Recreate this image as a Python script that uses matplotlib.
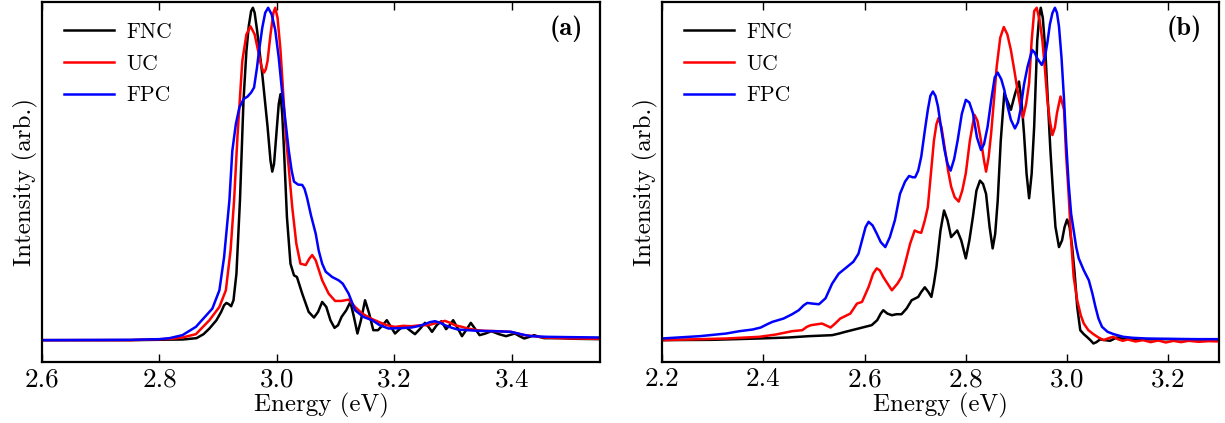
import numpy as np
import matplotlib
matplotlib.use('Agg')
import matplotlib.pyplot as plt

plt.rcParams['font.family'] = 'serif'
plt.rcParams['font.serif'] = ['cmr10']
plt.rcParams['mathtext.fontset'] = 'cm'
plt.rcParams['axes.formatter.use_mathtext'] = True

labels = ['FNC', 'UC', 'FPC']
colors = ['black', 'red', 'blue']

# panel (a) spectra: energy (eV), intensity (normalised)
a_fnc = [(2.60, 0.0), (2.75, 0.0), (2.84, 0.002), (2.863, 0.006), (2.875, 0.018), (2.885, 0.035),
         (2.897, 0.06), (2.905, 0.085), (2.910, 0.105), (2.914, 0.112), (2.918, 0.108), (2.922, 0.102),
         (2.926, 0.12), (2.931, 0.20), (2.937, 0.42), (2.943, 0.72), (2.948, 0.87), (2.952, 0.945),
         (2.956, 0.99), (2.959, 1.0), (2.962, 0.985), (2.966, 0.934), (2.975, 0.80), (2.984, 0.642),
         (2.989, 0.54), (2.992, 0.507), (2.995, 0.53), (2.999, 0.62), (3.003, 0.71), (3.006, 0.74),
         (3.009, 0.68), (3.012, 0.572), (3.017, 0.37), (3.023, 0.23), (3.029, 0.195), (3.034, 0.19),
         (3.043, 0.14), (3.054, 0.085), (3.063, 0.068), (3.070, 0.085), (3.077, 0.115), (3.084, 0.10),
         (3.091, 0.06), (3.098, 0.037), (3.104, 0.045), (3.110, 0.07), (3.118, 0.09), (3.125, 0.115),
         (3.131, 0.07), (3.137, 0.02), (3.143, 0.06), (3.150, 0.12), (3.157, 0.08), (3.164, 0.03),
         (3.172, 0.03), (3.180, 0.045), (3.187, 0.06), (3.194, 0.04), (3.201, 0.02), (3.210, 0.035),
         (3.218, 0.042), (3.226, 0.03), (3.235, 0.018), (3.244, 0.035), (3.252, 0.052), (3.258, 0.04),
         (3.264, 0.025), (3.272, 0.045), (3.280, 0.057), (3.288, 0.033), (3.294, 0.045), (3.300, 0.06),
         (3.308, 0.035), (3.315, 0.012), (3.322, 0.03), (3.330, 0.052), (3.337, 0.035), (3.345, 0.015),
         (3.355, 0.02), (3.365, 0.027), (3.378, 0.018), (3.39, 0.012), (3.405, 0.02), (3.413, 0.012),
         (3.421, 0.005), (3.430, 0.01), (3.438, 0.015), (3.446, 0.01), (3.455, 0.006), (3.48, 0.006),
         (3.51, 0.004), (3.55, 0.003)]
a_uc = [(2.60, 0.0), (2.75, 0.0), (2.82, 0.004), (2.839, 0.008), (2.862, 0.018), (2.885, 0.06),
        (2.902, 0.10), (2.913, 0.15), (2.921, 0.27), (2.927, 0.42), (2.933, 0.62), (2.941, 0.84),
        (2.948, 0.92), (2.955, 0.944), (2.962, 0.92), (2.970, 0.853), (2.974, 0.82), (2.978, 0.805),
        (2.981, 0.815), (2.984, 0.84), (2.989, 0.92), (2.994, 0.985), (2.997, 1.0), (3.001, 0.97),
        (3.006, 0.873), (3.015, 0.62), (3.026, 0.40), (3.033, 0.29), (3.040, 0.23), (3.049, 0.226),
        (3.055, 0.245), (3.060, 0.256), (3.066, 0.24), (3.077, 0.18), (3.088, 0.14), (3.099, 0.118),
        (3.110, 0.118), (3.122, 0.122), (3.133, 0.10), (3.145, 0.08), (3.160, 0.065), (3.173, 0.055),
        (3.187, 0.045), (3.201, 0.04), (3.215, 0.043), (3.229, 0.042), (3.245, 0.045), (3.258, 0.045),
        (3.272, 0.052), (3.286, 0.058), (3.295, 0.052), (3.303, 0.045), (3.315, 0.04), (3.325, 0.035),
        (3.340, 0.03), (3.354, 0.028), (3.375, 0.027), (3.398, 0.025), (3.410, 0.02), (3.421, 0.015),
        (3.438, 0.012), (3.455, 0.008), (3.48, 0.006), (3.51, 0.005), (3.55, 0.004)]
a_fpc = [(2.60, 0.0), (2.75, 0.001), (2.80, 0.003), (2.817, 0.006), (2.839, 0.015), (2.862, 0.04),
         (2.89, 0.095), (2.902, 0.15), (2.910, 0.25), (2.919, 0.42), (2.924, 0.57), (2.930, 0.65),
         (2.936, 0.70), (2.943, 0.725), (2.950, 0.733), (2.956, 0.745), (2.961, 0.76), (2.966, 0.82),
         (2.969, 0.864), (2.975, 0.94), (2.980, 0.985), (2.985, 1.0), (2.991, 0.98), (2.997, 0.934),
         (3.003, 0.85), (3.009, 0.743), (3.015, 0.65), (3.020, 0.572), (3.025, 0.51), (3.029, 0.477),
         (3.036, 0.468), (3.043, 0.467), (3.047, 0.455), (3.051, 0.43), (3.058, 0.375), (3.066, 0.32),
         (3.071, 0.27), (3.077, 0.23), (3.083, 0.206), (3.094, 0.19), (3.105, 0.18), (3.112, 0.17),
         (3.122, 0.14), (3.133, 0.09), (3.147, 0.07), (3.162, 0.06), (3.175, 0.045), (3.19, 0.035),
         (3.21, 0.036), (3.229, 0.038), (3.240, 0.042), (3.252, 0.048), (3.260, 0.054), (3.269, 0.057),
         (3.278, 0.052), (3.286, 0.045), (3.298, 0.037), (3.308, 0.032), (3.325, 0.03), (3.342, 0.028),
         (3.37, 0.027), (3.399, 0.025), (3.415, 0.018), (3.432, 0.012), (3.46, 0.01), (3.50, 0.009),
         (3.55, 0.008)]

# panel (b) spectra
b_fnc = [(2.20, 0.0), (2.30, 0.001), (2.392, 0.005), (2.45, 0.008), (2.49, 0.012), (2.536, 0.015),
         (2.550, 0.02), (2.562, 0.025), (2.588, 0.035), (2.614, 0.045), (2.625, 0.06), (2.632, 0.08),
         (2.637, 0.09), (2.645, 0.08), (2.654, 0.075), (2.663, 0.078), (2.673, 0.078), (2.683, 0.095),
         (2.693, 0.12), (2.706, 0.13), (2.712, 0.145), (2.719, 0.159), (2.726, 0.145), (2.732, 0.13),
         (2.737, 0.17), (2.742, 0.22), (2.750, 0.33), (2.757, 0.39), (2.764, 0.36), (2.771, 0.31),
         (2.777, 0.32), (2.783, 0.33), (2.791, 0.30), (2.800, 0.246), (2.807, 0.30), (2.814, 0.371),
         (2.821, 0.45), (2.828, 0.48), (2.834, 0.47), (2.840, 0.44), (2.847, 0.34), (2.853, 0.276),
         (2.858, 0.32), (2.863, 0.42), (2.869, 0.60), (2.876, 0.743), (2.882, 0.72), (2.889, 0.693),
         (2.897, 0.74), (2.905, 0.778), (2.910, 0.72), (2.915, 0.62), (2.920, 0.50), (2.925, 0.427),
         (2.930, 0.50), (2.935, 0.642), (2.941, 0.90), (2.945, 0.975), (2.948, 1.0), (2.952, 0.97),
         (2.957, 0.873), (2.962, 0.72), (2.967, 0.572), (2.972, 0.45), (2.977, 0.341), (2.984, 0.28),
         (2.990, 0.30), (2.995, 0.34), (3.000, 0.363), (3.005, 0.34), (3.010, 0.28), (3.015, 0.20),
         (3.020, 0.10), (3.026, 0.03), (3.033, 0.018), (3.039, 0.01), (3.046, 0.0), (3.052, -0.01),
         (3.058, -0.006), (3.065, 0.002), (3.075, 0.0), (3.085, -0.002), (3.098, 0.008), (3.110, 0.004),
         (3.13, 0.003), (3.15, 0.002), (3.2, 0.003), (3.25, 0.002), (3.3, 0.002)]
b_uc = [(2.20, 0.0), (2.327, 0.005), (2.392, 0.01), (2.425, 0.017), (2.457, 0.027), (2.477, 0.03),
        (2.486, 0.04), (2.494, 0.045), (2.516, 0.05), (2.533, 0.038), (2.542, 0.05), (2.552, 0.065),
        (2.572, 0.08), (2.585, 0.11), (2.595, 0.115), (2.608, 0.16), (2.617, 0.20), (2.624, 0.216),
        (2.630, 0.21), (2.637, 0.19), (2.654, 0.15), (2.665, 0.17), (2.673, 0.19), (2.680, 0.23),
        (2.690, 0.29), (2.699, 0.33), (2.706, 0.325), (2.712, 0.323), (2.719, 0.36), (2.725, 0.40),
        (2.731, 0.50), (2.737, 0.60), (2.742, 0.65), (2.746, 0.668), (2.752, 0.64), (2.758, 0.582),
        (2.765, 0.51), (2.771, 0.462), (2.778, 0.43), (2.786, 0.417), (2.793, 0.45), (2.800, 0.502),
        (2.808, 0.60), (2.817, 0.678), (2.823, 0.66), (2.830, 0.60), (2.836, 0.54), (2.840, 0.507),
        (2.845, 0.55), (2.850, 0.622), (2.856, 0.73), (2.861, 0.823), (2.868, 0.91), (2.875, 0.942),
        (2.882, 0.92), (2.889, 0.873), (2.896, 0.81), (2.902, 0.753), (2.908, 0.70), (2.913, 0.67),
        (2.919, 0.71), (2.925, 0.773), (2.930, 0.90), (2.935, 0.99), (2.940, 1.0), (2.946, 0.96),
        (2.951, 0.904), (2.956, 0.82), (2.961, 0.723), (2.966, 0.66), (2.971, 0.617), (2.976, 0.64),
        (2.980, 0.683), (2.987, 0.733), (2.994, 0.693), (2.998, 0.56), (3.003, 0.44), (3.008, 0.30),
        (3.013, 0.19), (3.020, 0.12), (3.027, 0.075), (3.033, 0.05), (3.042, 0.03), (3.052, 0.018),
        (3.062, 0.008), (3.072, 0.0), (3.082, 0.006), (3.091, 0.01), (3.10, 0.003), (3.11, -0.002),
        (3.12, 0.002), (3.135, -0.004), (3.15, 0.0), (3.165, -0.006), (3.18, -0.001), (3.195, -0.007),
        (3.21, -0.002), (3.225, -0.006), (3.24, -0.002), (3.26, -0.005), (3.28, -0.003), (3.30, -0.004)]
b_fpc = [(2.20, 0.005), (2.275, 0.012), (2.327, 0.02), (2.353, 0.027), (2.379, 0.032), (2.395, 0.038),
         (2.408, 0.048), (2.418, 0.055), (2.440, 0.065), (2.457, 0.078), (2.470, 0.09), (2.480, 0.105),
         (2.487, 0.112), (2.497, 0.11), (2.51, 0.108), (2.523, 0.126), (2.536, 0.17), (2.549, 0.2),
         (2.562, 0.216), (2.578, 0.236), (2.588, 0.26), (2.595, 0.30), (2.602, 0.34), (2.608, 0.356),
         (2.616, 0.345), (2.624, 0.321), (2.632, 0.295), (2.641, 0.28), (2.650, 0.31), (2.660, 0.361),
         (2.670, 0.44), (2.680, 0.477), (2.688, 0.494), (2.695, 0.49), (2.700, 0.49), (2.706, 0.51),
         (2.712, 0.552), (2.719, 0.63), (2.725, 0.693), (2.730, 0.735), (2.735, 0.748), (2.740, 0.735),
         (2.745, 0.703), (2.752, 0.63), (2.758, 0.572), (2.764, 0.53), (2.770, 0.51), (2.777, 0.545),
         (2.784, 0.602), (2.792, 0.68), (2.800, 0.723), (2.807, 0.715), (2.814, 0.683), (2.822, 0.61),
         (2.830, 0.572), (2.836, 0.59), (2.843, 0.642), (2.850, 0.72), (2.857, 0.79), (2.863, 0.805),
         (2.870, 0.785), (2.876, 0.753), (2.883, 0.70), (2.889, 0.663), (2.897, 0.637), (2.903, 0.655),
         (2.908, 0.693), (2.915, 0.77), (2.922, 0.823), (2.931, 0.873), (2.936, 0.865), (2.941, 0.848),
         (2.950, 0.828), (2.956, 0.85), (2.961, 0.894), (2.966, 0.95), (2.971, 0.984), (2.976, 1.0),
         (2.980, 0.985), (2.984, 0.944), (2.989, 0.85), (2.994, 0.723), (2.998, 0.60), (3.003, 0.472),
         (3.008, 0.38), (3.013, 0.33), (3.018, 0.28), (3.023, 0.246), (3.033, 0.21), (3.043, 0.18),
         (3.050, 0.14), (3.056, 0.10), (3.062, 0.065), (3.069, 0.04), (3.080, 0.025), (3.092, 0.018),
         (3.111, 0.01), (3.13, 0.007), (3.157, 0.005), (3.2, 0.004), (3.255, 0.003), (3.30, 0.003)]

a_xticks = [2.6, 2.8, 3.0, 3.2, 3.4]
b_xticks = [2.2, 2.4, 2.6, 2.8, 3.0, 3.2]

fig = plt.figure(figsize=(12.25, 4.23), dpi=100)
ax_a = fig.add_axes([0.0343, 0.144, 0.4555, 0.851])
ax_b = fig.add_axes([0.5404, 0.144, 0.4547, 0.851])

panels = [(ax_a, [a_fnc, a_uc, a_fpc], (2.6, 3.55), a_xticks, '(a)'),
          (ax_b, [b_fnc, b_uc, b_fpc], (2.2, 3.3), b_xticks, '(b)')]

for ax, series, xlim, xticks, tag in panels:
    for data, lab, col in zip(series, labels, colors):
        e, s = np.array(data).T
        ax.plot(e, s, color=col, lw=1.8, label=lab)
    ax.set_xlim(*xlim)
    ax.set_ylim(-0.066, 1.017)
    ax.set_xticks(xticks)
    ax.set_xticklabels(['%.1f' % t for t in xticks])
    ax.set_yticks([])
    ax.tick_params(axis='x', direction='in', top=True, length=6, width=1,
                   labelsize=19.5, pad=4)
    for sp in ax.spines.values():
        sp.set_linewidth(1.6)
    ax.set_xlabel('Energy (eV)', fontsize=18, labelpad=1)
    ax.set_ylabel('Intensity (arb.)', fontsize=18, labelpad=3)
    ax.legend(loc='upper left', frameon=False, fontsize=15.5, handlelength=2.3,
              handletextpad=0.6, labelspacing=0.57, borderaxespad=0.5,
              bbox_to_anchor=(0.005, 0.998))
    ax.text(0.97, 0.962, tag, transform=ax.transAxes, ha='right', va='top',
            fontsize=19, family='cmb10')

fig.savefig('out.png', dpi=100)
